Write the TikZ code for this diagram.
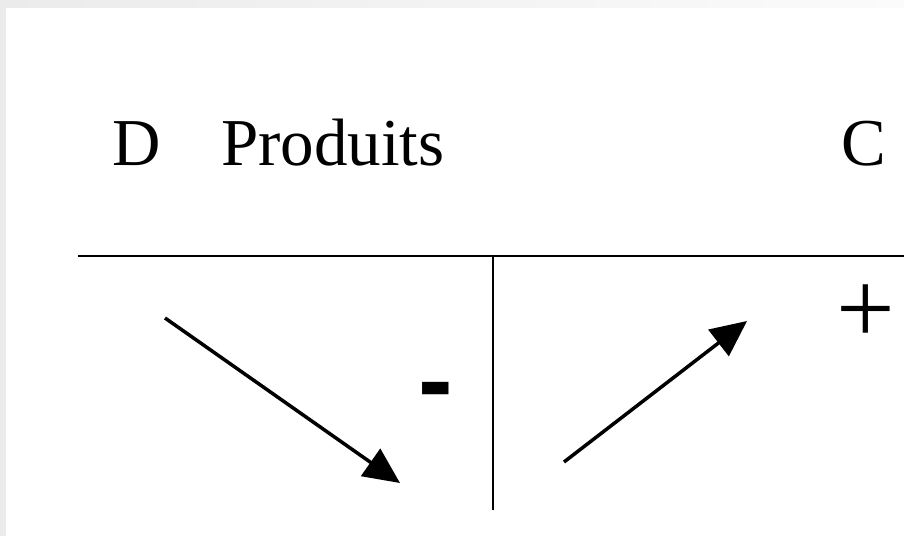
\documentclass[tikz,border=0pt]{standalone}
\usepackage{fontspec}
\setmainfont{Liberation Serif}
\newfontfamily\minusfont{Liberation Sans}
\usetikzlibrary{arrows.meta}
\definecolor{edgegray}{RGB}{235,235,235}
\definecolor{edgelight}{RGB}{251,251,251}
\begin{document}
\begin{tikzpicture}[x=1pt,y=-1pt,
  lbl/.style={inner sep=0pt,anchor=base west,font=\fontsize{67}{67}\selectfont},
  rule/.style={line width=2pt,black},
  trend/.style={line width=3.5pt,-{Triangle[length=36pt,width=33pt]}}]
\useasboundingbox (0,0) rectangle (904,536);
\fill[white] (0,0) rectangle (904,536);
\shade[left color=edgegray,right color=edgelight] (0,0) rectangle (904,7);
\fill[edgegray] (0,0) rectangle (6,536);
% labels
\node[lbl] (d) at (112,165) {D};
\node[lbl] (prod) at (221,165) {Produits};
\node[lbl] (c) at (841,165) {C};
\node[inner sep=0pt,font=\fontsize{104}{104}\selectfont] (plus) at (866,314) {+};
\node[inner sep=0pt,font=\minusfont\bfseries\fontsize{104}{104}\selectfont] (minus) at (436,399) {-};
% T account lines
\coordinate (hl) at (78,256);
\coordinate (hr) at (904,256);
\coordinate (vt) at (493,256);
\coordinate (vb) at (493,510);
\draw[rule] (hl) -- (hr);
\draw[rule] (vt) -- (vb);
% arrows
\coordinate (a1s) at (165,318);
\coordinate (a1e) at (400,483);
\coordinate (a2s) at (564,462);
\coordinate (a2e) at (747,321);
\draw[trend] (a1s) -- (a1e);
\draw[trend] (a2s) -- (a2e);
\end{tikzpicture}
\end{document}
